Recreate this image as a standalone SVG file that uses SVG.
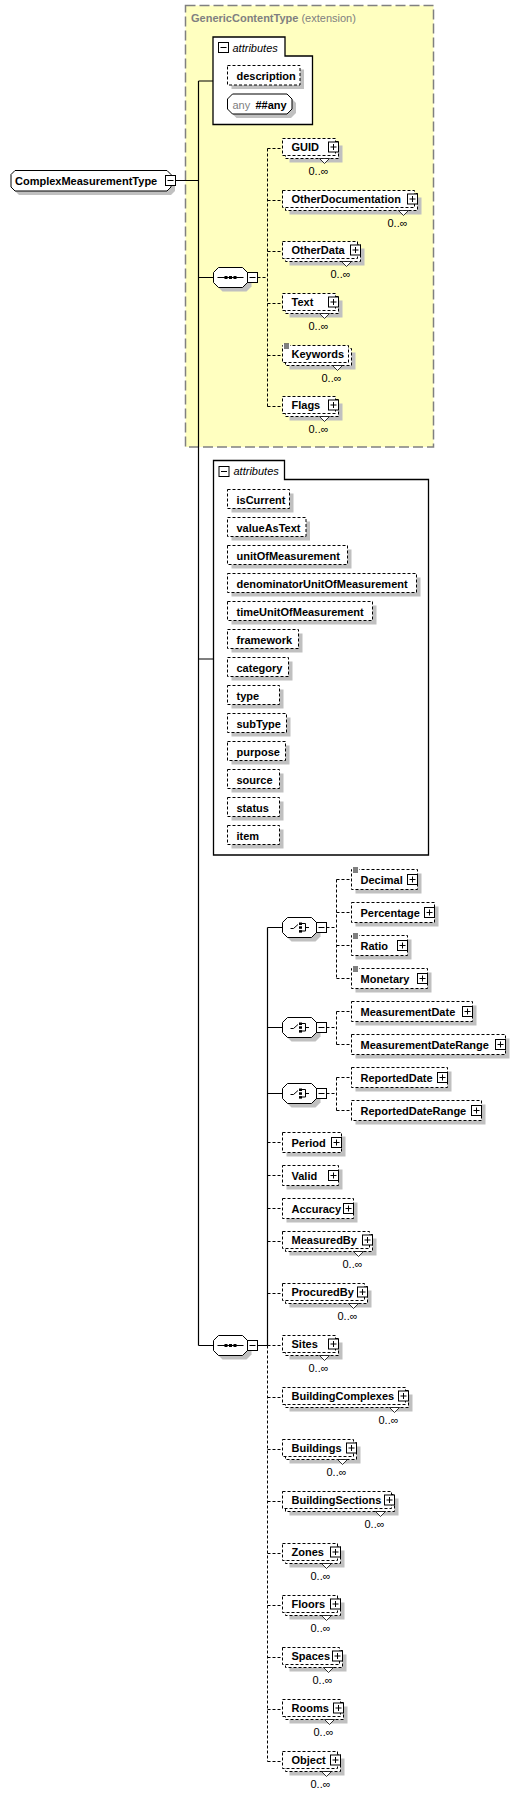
<svg xmlns="http://www.w3.org/2000/svg" width="529" height="1796" viewBox="0 0 529 1796">
<style>
.sh{fill:#c0c0c0}
.bx{fill:#fff;stroke:#000;stroke-width:1;stroke-dasharray:3,2}
.sb{fill:#fff;stroke:#000;stroke-width:1}
.ln{fill:none;stroke:#000;stroke-width:1}
.ab{fill:#fff;stroke:#000;stroke-width:1.3}
.c{fill:none;stroke:#000;stroke-width:1.2}
.d{fill:none;stroke:#000;stroke-width:1;stroke-dasharray:3,2}
.nt{fill:#fff;stroke:#000;stroke-width:0.8}
.sq{fill:#000}
text{font-family:"Liberation Sans",Arial,sans-serif;font-size:11px}
.n{font-weight:bold;fill:#000}
.o{fill:#000}
.it{font-style:italic;fill:#000}
.g{fill:#808080}
</style>
<defs>
<g id="plus"><rect class="sb" x="0" y="0" width="10" height="10"/><path class="ln" d="M2 5h6M5 2v6"/></g>
<g id="minus"><rect class="sb" x="0" y="0" width="10" height="10"/><path class="ln" d="M2 5h6"/></g>
<g id="eq"><rect x="0" y="-2" width="7" height="6" fill="#fff"/><path class="ln" d="M1 -1.5h5M1 0.5h5M1 2.5h5"/></g>
<g id="seqicon"><path class="ln" d="M-13 0H13"/><rect class="sq" x="-6" y="-1.5" width="3" height="3"/><rect class="sq" x="-1.5" y="-1.5" width="3" height="3"/><rect class="sq" x="3" y="-1.5" width="3" height="3"/></g>
<g id="choiceicon"><path class="ln" d="M-8.5 1h3l4.5-4M3 -4h3.5v7.5H3M6.5 0h3.5"/><rect class="sq" x="0" y="-5" width="3" height="2.5"/><rect class="sq" x="0" y="-1.2" width="3" height="2.5"/><rect class="sq" x="0" y="2.6" width="3" height="2.5"/></g>
</defs>

<g id="generic-extension">
<rect x="185.5" y="5.5" width="248" height="441.5" fill="#ffffc0" stroke="#808080" stroke-width="1.5" stroke-dasharray="10,4"/>
<text x="191" y="22"><tspan class="g" font-weight="bold">GenericContentType</tspan><tspan class="g"> (extension)</tspan></text>
</g>

<g id="connectors">
<path class="c" d="M175.5 180.5H198.5M198.5 81V1345.5M198.5 81H213M198.5 277.5H213.5M198.5 659H213.5M198.5 1345.5H213.5"/>
<path class="d" d="M257.5 277.5H267.5M267.5 148.5V406.5M267.5 148.5H282.5M267.5 200.5H282.5M267.5 251.5H282.5M267.5 303.5H282.5M267.5 355.5H282.5M267.5 406.5H282.5"/>
<path class="c" d="M257.5 1345.5H267.5M267.5 927.5V1345.5M267.5 927.5H282.5M267.5 1027.5H282.5M267.5 1093.5H282.5"/>
<path class="d" d="M267.5 1345.5V1761.5M267.5 1142.5H282.5M267.5 1175.5H282.5M267.5 1208.5H282.5M267.5 1241.5H282.5M267.5 1293.5H282.5M267.5 1345.5H282.5M267.5 1397.5H282.5M267.5 1449.5H282.5M267.5 1501.5H282.5M267.5 1553.5H282.5M267.5 1605.5H282.5M267.5 1657.5H282.5M267.5 1709.5H282.5M267.5 1761.5H282.5"/>
<path class="d" d="M326.5 927.5H336.5M336.5 879.5V978.5M336.5 879.5H351.5M336.5 912.5H351.5M336.5 945.5H351.5M336.5 978.5H351.5"/>
<path class="d" d="M326.5 1027.5H336.5M336.5 1011.5V1044.5M336.5 1011.5H351.5M336.5 1044.5H351.5"/>
<path class="d" d="M326.5 1093.5H336.5M336.5 1077.5V1110.5M336.5 1077.5H351.5M336.5 1110.5H351.5"/>
</g>

<g id="ComplexMeasurementType">
<polygon class="sh" points="19,174.5 171,174.5 175,178.5 175,191 171,195 19,195 15,191 15,178.5"/>
<polygon class="sb" points="15,170.5 167,170.5 171,174.5 171,187 167,191 15,191 11,187 11,174.5"/>
<text class="n" x="15" y="185">ComplexMeasurementType</text>
<use href="#minus" x="165.5" y="175.5"/>
</g>

<g id="attributes-generic">
<polygon class="ab" points="213,37 285,37 285,56 312.5,56 312.5,124.5 213,124.5"/>
<use href="#minus" x="218.5" y="42.5"/>
<text class="it" x="232.5" y="51.5">attributes</text>
<g id="description"><rect class="sh" x="231.5" y="69.5" width="72.5" height="19.5"/><rect class="bx" x="227.5" y="65.5" width="72.5" height="19.5"/><text class="n" x="236.5" y="79.5">description</text></g>
<g id="any">
<polygon class="sh" points="236.5,98 291,98 296,103 296,113 291,118 236.5,118 231.5,113 231.5,103"/>
<polygon class="sb" points="232.5,94 287,94 292,99 292,109 287,114 232.5,114 227.5,109 227.5,99"/>
<text x="232.5" y="108.5" class="g">any</text><text class="n" x="255.5" y="108.5">##any</text>
</g>
</g>

<g id="sequence-generic">
<polygon class="sh" points="222.5,271.5 246.5,271.5 251.5,276.5 251.5,286.5 246.5,291.5 222.5,291.5 217.5,286.5 217.5,276.5"/>
<polygon class="sb" points="218.5,267.5 242.5,267.5 247.5,272.5 247.5,282.5 242.5,287.5 218.5,287.5 213.5,282.5 213.5,272.5"/>
<use href="#seqicon" x="230.5" y="277.5"/>
<use href="#minus" x="247.5" y="272.5"/>
</g>

<g id="GUID">
<rect class="sh" x="289.5" y="145.5" width="53" height="17"/><rect class="bx" x="285.5" y="141.5" width="53" height="17"/><rect class="bx" x="282.5" y="138.5" width="53" height="17"/>
<polygon class="nt" points="319.5,158.5 329.5,158.5 324.5,163.5"/>
<text class="n" x="291.5" y="151">GUID</text><use href="#plus" x="328.5" y="142"/>
<text class="o" x="308.5" y="174.5">0..∞</text>
</g>
<g id="OtherDocumentation">
<rect class="sh" x="289.5" y="197.5" width="132" height="17"/><rect class="bx" x="285.5" y="193.5" width="132" height="17"/><rect class="bx" x="282.5" y="190.5" width="132" height="17"/>
<polygon class="nt" points="398.5,210.5 408.5,210.5 403.5,215.5"/>
<text class="n" x="291.5" y="203">OtherDocumentation</text><use href="#plus" x="407.5" y="194"/>
<text class="o" x="387.5" y="226.5">0..∞</text>
</g>
<g id="OtherData">
<rect class="sh" x="289.5" y="248.5" width="75" height="17"/><rect class="bx" x="285.5" y="244.5" width="75" height="17"/><rect class="bx" x="282.5" y="241.5" width="75" height="17"/>
<polygon class="nt" points="341.5,261.5 351.5,261.5 346.5,266.5"/>
<text class="n" x="291.5" y="254">OtherData</text><use href="#plus" x="350.5" y="245"/>
<text class="o" x="330.5" y="277.5">0..∞</text>
</g>
<g id="Text">
<rect class="sh" x="289.5" y="300.5" width="53" height="17"/><rect class="bx" x="285.5" y="296.5" width="53" height="17"/><rect class="bx" x="282.5" y="293.5" width="53" height="17"/>
<polygon class="nt" points="319.5,313.5 329.5,313.5 324.5,318.5"/>
<text class="n" x="291.5" y="306">Text</text><use href="#plus" x="328.5" y="297"/>
<text class="o" x="308.5" y="329.5">0..∞</text>
</g>
<g id="Keywords">
<rect class="sh" x="289.5" y="352.5" width="66" height="17"/><rect class="bx" x="285.5" y="348.5" width="66" height="17"/><rect class="bx" x="282.5" y="345.5" width="66" height="17"/>
<polygon class="nt" points="332.5,365.5 342.5,365.5 337.5,370.5"/>
<use href="#eq" x="283" y="345.5"/>
<text class="n" x="291.5" y="358">Keywords</text>
<text class="o" x="321.5" y="381.5">0..∞</text>
</g>
<g id="Flags">
<rect class="sh" x="289.5" y="403.5" width="53" height="17"/><rect class="bx" x="285.5" y="399.5" width="53" height="17"/><rect class="bx" x="282.5" y="396.5" width="53" height="17"/>
<polygon class="nt" points="319.5,416.5 329.5,416.5 324.5,421.5"/>
<text class="n" x="291.5" y="409">Flags</text><use href="#plus" x="328.5" y="400"/>
<text class="o" x="308.5" y="432.5">0..∞</text>
</g>

<g id="attributes">
<polygon class="ab" points="213.5,460.5 284.5,460.5 284.5,479.5 428.5,479.5 428.5,855 213.5,855"/>
<use href="#minus" x="219" y="466.5"/>
<text class="it" x="233.5" y="474.5">attributes</text>
<g id="isCurrent"><rect class="sh" x="231.5" y="493.5" width="62" height="19"/><rect class="bx" x="227.5" y="489.5" width="62" height="19"/><text class="n" x="236.5" y="503.5">isCurrent</text></g>
<g id="valueAsText"><rect class="sh" x="231.5" y="521.5" width="78.5" height="19"/><rect class="bx" x="227.5" y="517.5" width="78.5" height="19"/><text class="n" x="236.5" y="531.5">valueAsText</text></g>
<g id="unitOfMeasurement"><rect class="sh" x="231.5" y="549.5" width="120" height="19"/><rect class="bx" x="227.5" y="545.5" width="120" height="19"/><text class="n" x="236.5" y="559.5">unitOfMeasurement</text></g>
<g id="denominatorUnitOfMeasurement"><rect class="sh" x="231.5" y="577.5" width="189" height="19"/><rect class="bx" x="227.5" y="573.5" width="189" height="19"/><text class="n" x="236.5" y="587.5">denominatorUnitOfMeasurement</text></g>
<g id="timeUnitOfMeasurement"><rect class="sh" x="231.5" y="605.5" width="145" height="19"/><rect class="bx" x="227.5" y="601.5" width="145" height="19"/><text class="n" x="236.5" y="615.5">timeUnitOfMeasurement</text></g>
<g id="framework"><rect class="sh" x="231.5" y="633.5" width="71" height="19"/><rect class="bx" x="227.5" y="629.5" width="71" height="19"/><text class="n" x="236.5" y="643.5">framework</text></g>
<g id="category"><rect class="sh" x="231.5" y="661.5" width="61" height="19"/><rect class="bx" x="227.5" y="657.5" width="61" height="19"/><text class="n" x="236.5" y="671.5">category</text></g>
<g id="type"><rect class="sh" x="231.5" y="689.5" width="52" height="19"/><rect class="bx" x="227.5" y="685.5" width="52" height="19"/><text class="n" x="236.5" y="699.5">type</text></g>
<g id="subType"><rect class="sh" x="231.5" y="717.5" width="59" height="19"/><rect class="bx" x="227.5" y="713.5" width="59" height="19"/><text class="n" x="236.5" y="727.5">subType</text></g>
<g id="purpose"><rect class="sh" x="231.5" y="745.5" width="58" height="19"/><rect class="bx" x="227.5" y="741.5" width="58" height="19"/><text class="n" x="236.5" y="755.5">purpose</text></g>
<g id="source"><rect class="sh" x="231.5" y="773.5" width="52" height="19"/><rect class="bx" x="227.5" y="769.5" width="52" height="19"/><text class="n" x="236.5" y="783.5">source</text></g>
<g id="status"><rect class="sh" x="231.5" y="801.5" width="52" height="19"/><rect class="bx" x="227.5" y="797.5" width="52" height="19"/><text class="n" x="236.5" y="811.5">status</text></g>
<g id="item"><rect class="sh" x="231.5" y="829.5" width="52" height="19"/><rect class="bx" x="227.5" y="825.5" width="52" height="19"/><text class="n" x="236.5" y="839.5">item</text></g>
</g>

<g id="sequence">
<polygon class="sh" points="222.5,1339.5 246.5,1339.5 251.5,1344.5 251.5,1354.5 246.5,1359.5 222.5,1359.5 217.5,1354.5 217.5,1344.5"/>
<polygon class="sb" points="218.5,1335.5 242.5,1335.5 247.5,1340.5 247.5,1350.5 242.5,1355.5 218.5,1355.5 213.5,1350.5 213.5,1340.5"/>
<use href="#seqicon" x="230.5" y="1345.5"/>
<use href="#minus" x="247.5" y="1340.5"/>
</g>

<g id="choice-value">
<polygon class="sh" points="291.5,921.5 315.5,921.5 320.5,926.5 320.5,936.5 315.5,941.5 291.5,941.5 286.5,936.5 286.5,926.5"/>
<polygon class="sb" points="287.5,917.5 311.5,917.5 316.5,922.5 316.5,932.5 311.5,937.5 287.5,937.5 282.5,932.5 282.5,922.5"/>
<use href="#choiceicon" x="299" y="927.5"/>
<use href="#minus" x="316.5" y="922.5"/>
</g>
<g id="Decimal"><rect class="sh" x="355.5" y="873.5" width="66" height="20"/><rect class="bx" x="351.5" y="869.5" width="66" height="20"/><use href="#eq" x="352" y="869.5"/><text class="n" x="360.5" y="883.5">Decimal</text><use href="#plus" x="407.5" y="874.5"/></g>
<g id="Percentage"><rect class="sh" x="355.5" y="906.5" width="83" height="20"/><rect class="bx" x="351.5" y="902.5" width="83" height="20"/><text class="n" x="360.5" y="916.5">Percentage</text><use href="#plus" x="424.5" y="907.5"/></g>
<g id="Ratio"><rect class="sh" x="355.5" y="939.5" width="56" height="20"/><rect class="bx" x="351.5" y="935.5" width="56" height="20"/><use href="#eq" x="352" y="935.5"/><text class="n" x="360.5" y="949.5">Ratio</text><use href="#plus" x="397.5" y="940.5"/></g>
<g id="Monetary"><rect class="sh" x="355.5" y="972.5" width="76" height="20"/><rect class="bx" x="351.5" y="968.5" width="76" height="20"/><use href="#eq" x="352" y="968.5"/><text class="n" x="360.5" y="982.5">Monetary</text><use href="#plus" x="417.5" y="973.5"/></g>

<g id="choice-measurement-date">
<polygon class="sh" points="291.5,1021.5 315.5,1021.5 320.5,1026.5 320.5,1036.5 315.5,1041.5 291.5,1041.5 286.5,1036.5 286.5,1026.5"/>
<polygon class="sb" points="287.5,1017.5 311.5,1017.5 316.5,1022.5 316.5,1032.5 311.5,1037.5 287.5,1037.5 282.5,1032.5 282.5,1022.5"/>
<use href="#choiceicon" x="299" y="1027.5"/>
<use href="#minus" x="316.5" y="1022.5"/>
</g>
<g id="MeasurementDate"><rect class="sh" x="355.5" y="1005.5" width="121" height="20"/><rect class="bx" x="351.5" y="1001.5" width="121" height="20"/><text class="n" x="360.5" y="1015.5">MeasurementDate</text><use href="#plus" x="462.5" y="1006.5"/></g>
<g id="MeasurementDateRange"><rect class="sh" x="355.5" y="1038.5" width="154" height="20"/><rect class="bx" x="351.5" y="1034.5" width="154" height="20"/><text class="n" x="360.5" y="1048.5">MeasurementDateRange</text><use href="#plus" x="495.5" y="1039.5"/></g>

<g id="choice-reported-date">
<polygon class="sh" points="291.5,1087.5 315.5,1087.5 320.5,1092.5 320.5,1102.5 315.5,1107.5 291.5,1107.5 286.5,1102.5 286.5,1092.5"/>
<polygon class="sb" points="287.5,1083.5 311.5,1083.5 316.5,1088.5 316.5,1098.5 311.5,1103.5 287.5,1103.5 282.5,1098.5 282.5,1088.5"/>
<use href="#choiceicon" x="299" y="1093.5"/>
<use href="#minus" x="316.5" y="1088.5"/>
</g>
<g id="ReportedDate"><rect class="sh" x="355.5" y="1071.5" width="96" height="20"/><rect class="bx" x="351.5" y="1067.5" width="96" height="20"/><text class="n" x="360.5" y="1081.5">ReportedDate</text><use href="#plus" x="437.5" y="1072.5"/></g>
<g id="ReportedDateRange"><rect class="sh" x="355.5" y="1104.5" width="130" height="20"/><rect class="bx" x="351.5" y="1100.5" width="130" height="20"/><text class="n" x="360.5" y="1114.5">ReportedDateRange</text><use href="#plus" x="471.5" y="1105.5"/></g>

<g id="Period"><rect class="sh" x="286.5" y="1136.5" width="59" height="20"/><rect class="bx" x="282.5" y="1132.5" width="59" height="20"/><text class="n" x="291.5" y="1146.5">Period</text><use href="#plus" x="331.5" y="1137.5"/></g>
<g id="Valid"><rect class="sh" x="286.5" y="1169.5" width="56" height="20"/><rect class="bx" x="282.5" y="1165.5" width="56" height="20"/><text class="n" x="291.5" y="1179.5">Valid</text><use href="#plus" x="328.5" y="1170.5"/></g>
<g id="Accuracy"><rect class="sh" x="286.5" y="1202.5" width="71" height="20"/><rect class="bx" x="282.5" y="1198.5" width="71" height="20"/><text class="n" x="291.5" y="1212.5">Accuracy</text><use href="#plus" x="343.5" y="1203.5"/></g>

<g id="MeasuredBy">
<rect class="sh" x="289.5" y="1238.5" width="87" height="17"/><rect class="bx" x="285.5" y="1234.5" width="87" height="17"/><rect class="bx" x="282.5" y="1231.5" width="87" height="17"/>
<polygon class="nt" points="353.5,1251.5 363.5,1251.5 358.5,1256.5"/>
<text class="n" x="291.5" y="1244">MeasuredBy</text><use href="#plus" x="362.5" y="1235"/>
<text class="o" x="342.5" y="1267.5">0..∞</text>
</g>
<g id="ProcuredBy">
<rect class="sh" x="289.5" y="1290.5" width="82" height="17"/><rect class="bx" x="285.5" y="1286.5" width="82" height="17"/><rect class="bx" x="282.5" y="1283.5" width="82" height="17"/>
<polygon class="nt" points="348.5,1303.5 358.5,1303.5 353.5,1308.5"/>
<text class="n" x="291.5" y="1296">ProcuredBy</text><use href="#plus" x="357.5" y="1287"/>
<text class="o" x="337.5" y="1319.5">0..∞</text>
</g>
<g id="Sites">
<rect class="sh" x="289.5" y="1342.5" width="53" height="17"/><rect class="bx" x="285.5" y="1338.5" width="53" height="17"/><rect class="bx" x="282.5" y="1335.5" width="53" height="17"/>
<polygon class="nt" points="319.5,1355.5 329.5,1355.5 324.5,1360.5"/>
<text class="n" x="291.5" y="1348">Sites</text><use href="#plus" x="328.5" y="1339"/>
<text class="o" x="308.5" y="1371.5">0..∞</text>
</g>
<g id="BuildingComplexes">
<rect class="sh" x="289.5" y="1394.5" width="123" height="17"/><rect class="bx" x="285.5" y="1390.5" width="123" height="17"/><rect class="bx" x="282.5" y="1387.5" width="123" height="17"/>
<polygon class="nt" points="389.5,1407.5 399.5,1407.5 394.5,1412.5"/>
<text class="n" x="291.5" y="1400">BuildingComplexes</text><use href="#plus" x="398.5" y="1391"/>
<text class="o" x="378.5" y="1423.5">0..∞</text>
</g>
<g id="Buildings">
<rect class="sh" x="289.5" y="1446.5" width="71" height="17"/><rect class="bx" x="285.5" y="1442.5" width="71" height="17"/><rect class="bx" x="282.5" y="1439.5" width="71" height="17"/>
<polygon class="nt" points="337.5,1459.5 347.5,1459.5 342.5,1464.5"/>
<text class="n" x="291.5" y="1452">Buildings</text><use href="#plus" x="346.5" y="1443"/>
<text class="o" x="326.5" y="1475.5">0..∞</text>
</g>
<g id="BuildingSections">
<rect class="sh" x="289.5" y="1498.5" width="109" height="17"/><rect class="bx" x="285.5" y="1494.5" width="109" height="17"/><rect class="bx" x="282.5" y="1491.5" width="109" height="17"/>
<polygon class="nt" points="375.5,1511.5 385.5,1511.5 380.5,1516.5"/>
<text class="n" x="291.5" y="1504">BuildingSections</text><use href="#plus" x="384.5" y="1495"/>
<text class="o" x="364.5" y="1527.5">0..∞</text>
</g>
<g id="Zones">
<rect class="sh" x="289.5" y="1550.5" width="55" height="17"/><rect class="bx" x="285.5" y="1546.5" width="55" height="17"/><rect class="bx" x="282.5" y="1543.5" width="55" height="17"/>
<polygon class="nt" points="321.5,1563.5 331.5,1563.5 326.5,1568.5"/>
<text class="n" x="291.5" y="1556">Zones</text><use href="#plus" x="330.5" y="1547"/>
<text class="o" x="310.5" y="1579.5">0..∞</text>
</g>
<g id="Floors">
<rect class="sh" x="289.5" y="1602.5" width="55" height="17"/><rect class="bx" x="285.5" y="1598.5" width="55" height="17"/><rect class="bx" x="282.5" y="1595.5" width="55" height="17"/>
<polygon class="nt" points="321.5,1615.5 331.5,1615.5 326.5,1620.5"/>
<text class="n" x="291.5" y="1608">Floors</text><use href="#plus" x="330.5" y="1599"/>
<text class="o" x="310.5" y="1631.5">0..∞</text>
</g>
<g id="Spaces">
<rect class="sh" x="289.5" y="1654.5" width="57" height="17"/><rect class="bx" x="285.5" y="1650.5" width="57" height="17"/><rect class="bx" x="282.5" y="1647.5" width="57" height="17"/>
<polygon class="nt" points="323.5,1667.5 333.5,1667.5 328.5,1672.5"/>
<text class="n" x="291.5" y="1660">Spaces</text><use href="#plus" x="332.5" y="1651"/>
<text class="o" x="312.5" y="1683.5">0..∞</text>
</g>
<g id="Rooms">
<rect class="sh" x="289.5" y="1706.5" width="58" height="17"/><rect class="bx" x="285.5" y="1702.5" width="58" height="17"/><rect class="bx" x="282.5" y="1699.5" width="58" height="17"/>
<polygon class="nt" points="324.5,1719.5 334.5,1719.5 329.5,1724.5"/>
<text class="n" x="291.5" y="1712">Rooms</text><use href="#plus" x="333.5" y="1703"/>
<text class="o" x="313.5" y="1735.5">0..∞</text>
</g>
<g id="Object">
<rect class="sh" x="289.5" y="1758.5" width="55" height="17"/><rect class="bx" x="285.5" y="1754.5" width="55" height="17"/><rect class="bx" x="282.5" y="1751.5" width="55" height="17"/>
<polygon class="nt" points="321.5,1771.5 331.5,1771.5 326.5,1776.5"/>
<text class="n" x="291.5" y="1764">Object</text><use href="#plus" x="330.5" y="1755"/>
<text class="o" x="310.5" y="1787.5">0..∞</text>
</g>
</svg>
